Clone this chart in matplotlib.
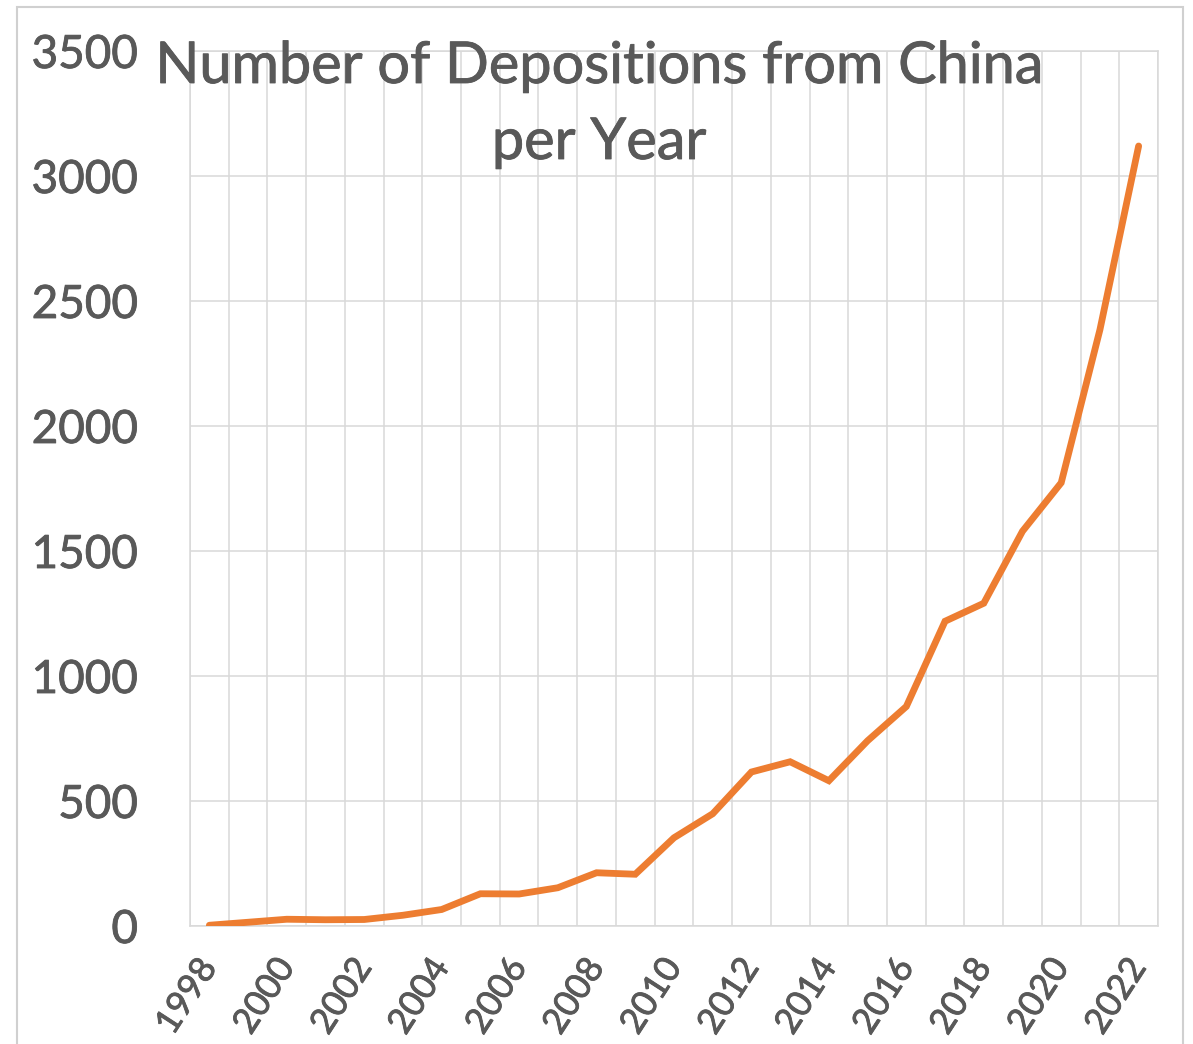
import matplotlib
matplotlib.use("Agg")
import matplotlib.pyplot as plt
from matplotlib.patches import Rectangle
import matplotlib.patheffects as pe

years = list(range(1998, 2023))
depositions = [3, 15, 27, 25, 26, 43, 66, 129, 128, 153, 213, 207, 353, 449,
               616, 657, 581, 741, 878, 1219, 1291, 1579, 1773, 2385, 3120]
y_ticks = [0, 500, 1000, 1500, 2000, 2500, 3000, 3500]
title_lines = ["Number of Depositions from China", "per Year"]

TEXT = "#595959"
GRID = "#D9D9D9"
ORANGE = "#ED7D31"
FONT = ["Lato", "DejaVu Sans"]
THICK = [pe.withStroke(linewidth=0.6, foreground=TEXT)]

W, H = 1193, 1044
fig = plt.figure(figsize=(W / 100, H / 100), dpi=100)
fig.patch.set_facecolor("white")

# chart-area frame
fig.patches.append(Rectangle((17 / W, -0.05), (1183 - 17) / W, 1.05 - 7 / H,
                             transform=fig.transFigure, fill=False,
                             edgecolor="#D0D0D0", linewidth=1.5))

ax = fig.add_axes([190 / W, (H - 926) / H, 968 / W, 875 / H])
idx = list(range(len(years)))
ax.plot(idx, depositions, color=ORANGE, linewidth=4.9,
        solid_capstyle="round", solid_joinstyle="miter", zorder=3)

ax.set_xlim(-0.5, len(years) - 0.5)
ax.set_ylim(0, 3500)
ax.set_yticks(y_ticks)
ax.set_yticklabels([str(v) for v in y_ticks], fontsize=33, color=TEXT,
                   family=FONT)

label_idx = [i for i, y in enumerate(years) if (y - 1998) % 2 == 0]
ax.set_xticks(label_idx)
ax.set_xticklabels([str(years[i]) for i in label_idx], fontsize=25.5,
                   color=TEXT, family=FONT, rotation=57, ha="right",
                   va="center", rotation_mode="anchor")
ax.set_xticks([i - 0.5 for i in range(len(years) + 1)], minor=True)
for t in ax.get_xticklabels() + ax.get_yticklabels():
    t.set_path_effects(THICK)

ax.tick_params(axis="y", length=0, pad=37.4)
ax.tick_params(axis="x", which="both", length=0, pad=26)
ax.grid(True, axis="y", which="major", color=GRID, linewidth=1.1)
ax.grid(True, axis="x", which="minor", color=GRID, linewidth=1.1)
ax.grid(False, axis="x", which="major")
for s in ax.spines.values():
    s.set_color(GRID)
    s.set_linewidth(1.1)
ax.set_axisbelow(True)

fig.text(599 / W, 1 - 83 / H, title_lines[0], ha="center", va="baseline",
         fontsize=41.5, color=TEXT, family=FONT, path_effects=THICK)
fig.text(599 / W, 1 - 159 / H, title_lines[1], ha="center", va="baseline",
         fontsize=41.5, color=TEXT, family=FONT, path_effects=THICK)

fig.savefig("out.png", dpi=100, facecolor="white")
